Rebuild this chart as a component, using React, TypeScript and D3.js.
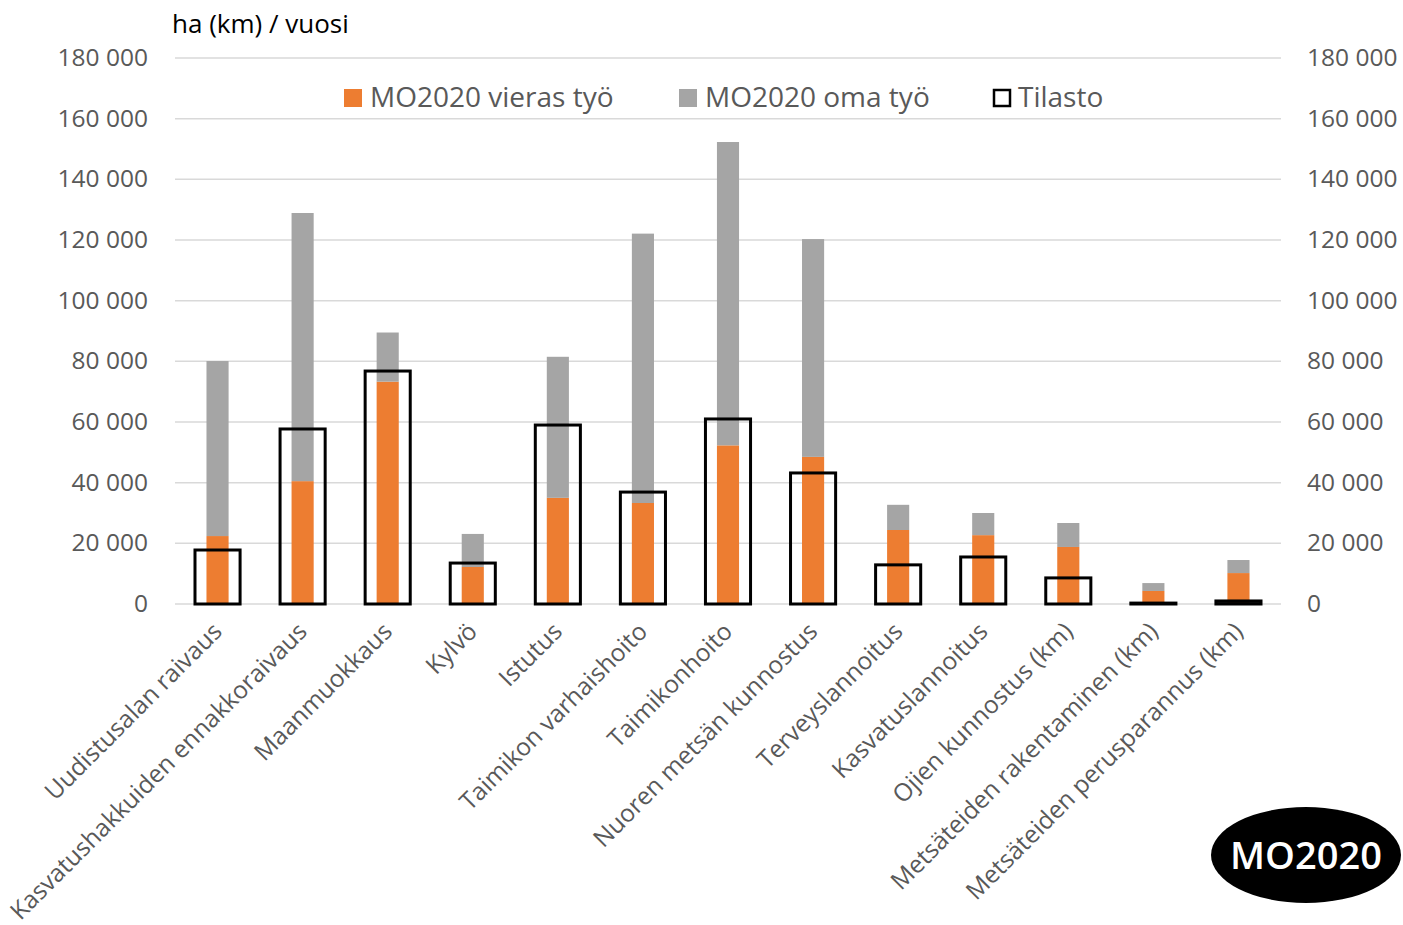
import React, { useEffect, useRef } from 'react';
import * as d3 from 'd3';

const categories = [
  'Uudistusalan raivaus',
  'Kasvatushakkuiden ennakkoraivaus',
  'Maanmuokkaus',
  'Kylvö',
  'Istutus',
  'Taimikon varhaishoito',
  'Taimikonhoito',
  'Nuoren metsän kunnostus',
  'Terveyslannoitus',
  'Kasvatuslannoitus',
  'Ojien kunnostus (km)',
  'Metsäteiden rakentaminen (km)',
  'Metsäteiden perusparannus (km)',
];

// MO2020 vieras työ (contractor work)
const vierasTyo = [22400, 40500, 73300, 12200, 35000, 33300, 52300, 48500, 24400, 22700, 18800, 4300, 10200];
// MO2020 oma työ (own work), stacked on top
const omaTyo = [57700, 88400, 16200, 10900, 46500, 88800, 100000, 71800, 8300, 7300, 7900, 2600, 4300];
// Tilasto (statistics)
const tilasto = [17800, 57700, 76800, 13500, 59000, 36900, 61000, 43200, 12900, 15500, 8600, 300, 1000];

const yTicks = [0, 20000, 40000, 60000, 80000, 100000, 120000, 140000, 160000, 180000];

const FONT = '"Open Sans", "Liberation Sans", sans-serif';
const ORANGE = '#ED7D31';
const GREY = '#A5A5A5';

const App = () => {
  const ref = useRef<SVGSVGElement>(null);

  useEffect(() => {
    const svg = d3.select(ref.current);
    svg.selectAll('*').remove();

    const x = d3.scaleBand<string>().domain(categories).range([175, 1281]).padding(0);
    const y = d3.scaleLinear().domain([0, 180000]).range([604, 58]);
    const bw = x.bandwidth();
    const fmt = (v: number) => d3.format(',')(v).replace(/,/g, ' ');

    // gridlines
    svg
      .append('g')
      .selectAll('line')
      .data(yTicks)
      .join('line')
      .attr('x1', 175)
      .attr('x2', 1281)
      .attr('y1', (d) => y(d))
      .attr('y2', (d) => y(d))
      .attr('stroke', '#d9d9d9')
      .attr('stroke-width', 1.5);

    // left axis labels
    svg
      .append('g')
      .selectAll('text')
      .data(yTicks)
      .join('text')
      .attr('x', 148)
      .attr('y', (d) => y(d) + 8)
      .attr('text-anchor', 'end')
      .attr('font-family', FONT)
      .attr('font-size', 24.5)
      .attr('fill', '#595959')
      .text(fmt);

    // right axis labels
    svg
      .append('g')
      .selectAll('text')
      .data(yTicks)
      .join('text')
      .attr('x', 1307)
      .attr('y', (d) => y(d) + 8)
      .attr('text-anchor', 'start')
      .attr('font-family', FONT)
      .attr('font-size', 24.5)
      .attr('fill', '#595959')
      .text(fmt);

    const cx = (i: number) => (x(categories[i]) as number) + bw / 2;
    const barW = bw * 0.26;
    const boxW = bw * 0.53;

    // orange stack
    svg
      .append('g')
      .selectAll('rect')
      .data(vierasTyo)
      .join('rect')
      .attr('x', (_, i) => cx(i) - barW / 2)
      .attr('width', barW)
      .attr('y', (d) => y(d))
      .attr('height', (d) => y(0) - y(d))
      .attr('fill', ORANGE);

    // grey stack
    svg
      .append('g')
      .selectAll('rect')
      .data(omaTyo)
      .join('rect')
      .attr('x', (_, i) => cx(i) - barW / 2)
      .attr('width', barW)
      .attr('y', (d, i) => y(d + vierasTyo[i]))
      .attr('height', (d) => y(0) - y(d))
      .attr('fill', GREY);

    // tilasto boxes
    svg
      .append('g')
      .selectAll('rect')
      .data(tilasto)
      .join('rect')
      .attr('x', (_, i) => cx(i) - boxW / 2)
      .attr('width', boxW)
      .attr('y', (d) => y(d))
      .attr('height', (d) => y(0) - y(d))
      .attr('fill', 'none')
      .attr('stroke', '#000')
      .attr('stroke-width', 3);

    // category labels
    svg
      .append('g')
      .selectAll('text')
      .data(categories)
      .join('text')
      .attr('transform', (_, i) => `translate(${cx(i) + 6},${633}) rotate(-45)`)
      .attr('text-anchor', 'end')
      .attr('font-family', FONT)
      .attr('font-size', 24.5)
      .attr('fill', '#595959')
      .text((d) => d);

    // title
    svg
      .append('text')
      .attr('x', 172)
      .attr('y', 33)
      .attr('font-family', FONT)
      .attr('font-size', 26)
      .attr('fill', '#000')
      .text('ha (km) / vuosi');

    // legend
    const legend = [
      { label: 'MO2020 vieras työ', x: 344, type: 'fill', color: ORANGE },
      { label: 'MO2020 oma työ', x: 679, type: 'fill', color: GREY },
      { label: 'Tilasto', x: 993, type: 'box', color: '#000' },
    ];
    const lg = svg.append('g');
    legend.forEach((l) => {
      if (l.type === 'fill') {
        lg.append('rect').attr('x', l.x).attr('y', 89).attr('width', 18).attr('height', 18).attr('fill', l.color);
      } else {
        lg.append('rect')
          .attr('x', l.x + 1)
          .attr('y', 90)
          .attr('width', 16)
          .attr('height', 16)
          .attr('fill', 'none')
          .attr('stroke', l.color)
          .attr('stroke-width', 2.5);
      }
      lg.append('text')
        .attr('x', l.x + (l.type === 'fill' ? 26 : 25))
        .attr('y', 107)
        .attr('font-family', FONT)
        .attr('font-size', 28)
        .attr('fill', '#595959')
        .text(l.label);
    });

    // logo
    const logo = svg.append('g');
    logo.append('ellipse').attr('cx', 1306).attr('cy', 855).attr('rx', 95).attr('ry', 48).attr('fill', '#000');
    logo
      .append('text')
      .attr('x', 1306)
      .attr('y', 869)
      .attr('text-anchor', 'middle')
      .attr('font-family', FONT)
      .attr('font-weight', 600)
      .attr('font-size', 38)
      .attr('fill', '#fff')
      .text('MO2020');
  }, []);

  return (
    <svg ref={ref} width={1403} height={925} style={{ display: 'block', position: 'absolute', left: 0, top: 0, background: '#fff' }} />
  );
};

export default App;
